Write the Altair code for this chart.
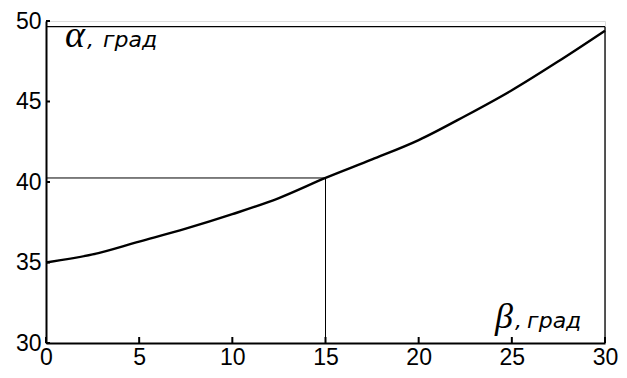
import altair as alt
import pandas as pd

beta = [0, 2.5, 5, 7.5, 10, 12.5, 15, 17.5, 20, 22.5, 25, 27.5, 30]
alpha = [35.0, 35.5, 36.3, 37.1, 38.0, 39.0, 40.25, 41.4, 42.6, 44.1, 45.7, 47.5, 49.4]
x_ticks = [0, 5, 10, 15, 20, 25, 30]
y_ticks = [30, 35, 40, 45, 50]
frame_top = 49.65
mark_beta = 15
mark_alpha = 40.25

W, H = 559, 322
FONT = "Liberation Sans"

curve_df = pd.DataFrame({"beta": beta, "alpha": alpha})

xs = alt.Scale(domain=[0, 30], nice=False, zero=False)
ys = alt.Scale(domain=[30, 50], nice=False, zero=False)

xaxis = alt.Axis(values=x_ticks, ticks=False, grid=False, domainWidth=2, domainColor="black",
                 labelFontSize=23, labelFont=FONT, labelColor="black", labelPadding=3,
                 labelFlush=False, labelOverlap=False, title=None)
yaxis = alt.Axis(values=y_ticks, ticks=False, grid=False, domainWidth=2, domainColor="black",
                 labelFontSize=23, labelFont=FONT, labelColor="black", labelPadding=5,
                 labelFlush=False, labelOverlap=False, title=None)

curve = alt.Chart(curve_df).mark_line(color="black", strokeWidth=2.4, interpolate="monotone").encode(
    x=alt.X("beta:Q", scale=xs, axis=xaxis),
    y=alt.Y("alpha:Q", scale=ys, axis=yaxis),
)

# frame: top and right
top_df = pd.DataFrame({"x1": [0], "x2": [30], "y": [frame_top]})
top = alt.Chart(top_df).mark_rule(color="black", strokeWidth=1.3).encode(
    x=alt.X("x1:Q", scale=xs), x2="x2:Q", y=alt.Y("y:Q", scale=ys))
right_df = pd.DataFrame({"x": [30], "y1": [30], "y2": [frame_top]})
right = alt.Chart(right_df).mark_rule(color="black", strokeWidth=1.3).encode(
    x=alt.X("x:Q", scale=xs), y=alt.Y("y1:Q", scale=ys), y2="y2:Q")

# guide lines at beta=15
h_df = pd.DataFrame({"x1": [0], "x2": [mark_beta], "y": [mark_alpha]})
hline = alt.Chart(h_df).mark_rule(color="black", strokeWidth=1).encode(
    x=alt.X("x1:Q", scale=xs), x2="x2:Q", y=alt.Y("y:Q", scale=ys))
v_df = pd.DataFrame({"x": [mark_beta], "y1": [30], "y2": [mark_alpha]})
vline = alt.Chart(v_df).mark_rule(color="black", strokeWidth=1).encode(
    x=alt.X("x:Q", scale=xs), y=alt.Y("y1:Q", scale=ys), y2="y2:Q")

# inward ticks
xt_df = pd.DataFrame({"t": x_ticks})
xt = alt.Chart(xt_df).mark_rule(color="black", strokeWidth=2).encode(
    x=alt.X("t:Q", scale=xs), y=alt.value(H), y2=alt.value(H - 6))
yt_df = pd.DataFrame({"t": y_ticks})
yt = alt.Chart(yt_df).mark_rule(color="black", strokeWidth=2).encode(
    y=alt.Y("t:Q", scale=ys), x=alt.value(0), x2=alt.value(4))

# Greek symbols
sym_df = pd.DataFrame({"x": [1.02, 24.1], "y": [48.39, 30.93], "t": ["α", "β"], "s": [38, 36]})
syms = alt.Chart(sym_df).mark_text(
    align="left", baseline="alphabetic", font="Liberation Serif", fontStyle="italic", color="black"
).encode(
    x=alt.X("x:Q", scale=xs), y=alt.Y("y:Q", scale=ys), text="t:N",
    size=alt.Size("s:Q", scale=None, legend=None),
)

# unit labels
unit_df = pd.DataFrame({
    "x": [2.2, 3.06, 25.17, 25.82],
    "y": [48.39, 48.39, 30.93, 30.93],
    "t": [",", "град", ",", "град"],
})
units = alt.Chart(unit_df).mark_text(
    align="left", baseline="alphabetic", font="DejaVu Sans", fontStyle="italic",
    fontSize=22, color="black"
).encode(
    x=alt.X("x:Q", scale=xs), y=alt.Y("y:Q", scale=ys), text="t:N",
)

chart = alt.layer(curve, top, right, hline, vline, xt, yt, syms, units).properties(
    width=W, height=H,
    autosize=alt.AutoSizeParams(type="none"),
    padding={"left": 38, "top": 13, "right": 14, "bottom": 27},
).configure_view(stroke=None).configure(background="white")

chart.save("out.html", embed_options={"renderer": "svg", "actions": False})
